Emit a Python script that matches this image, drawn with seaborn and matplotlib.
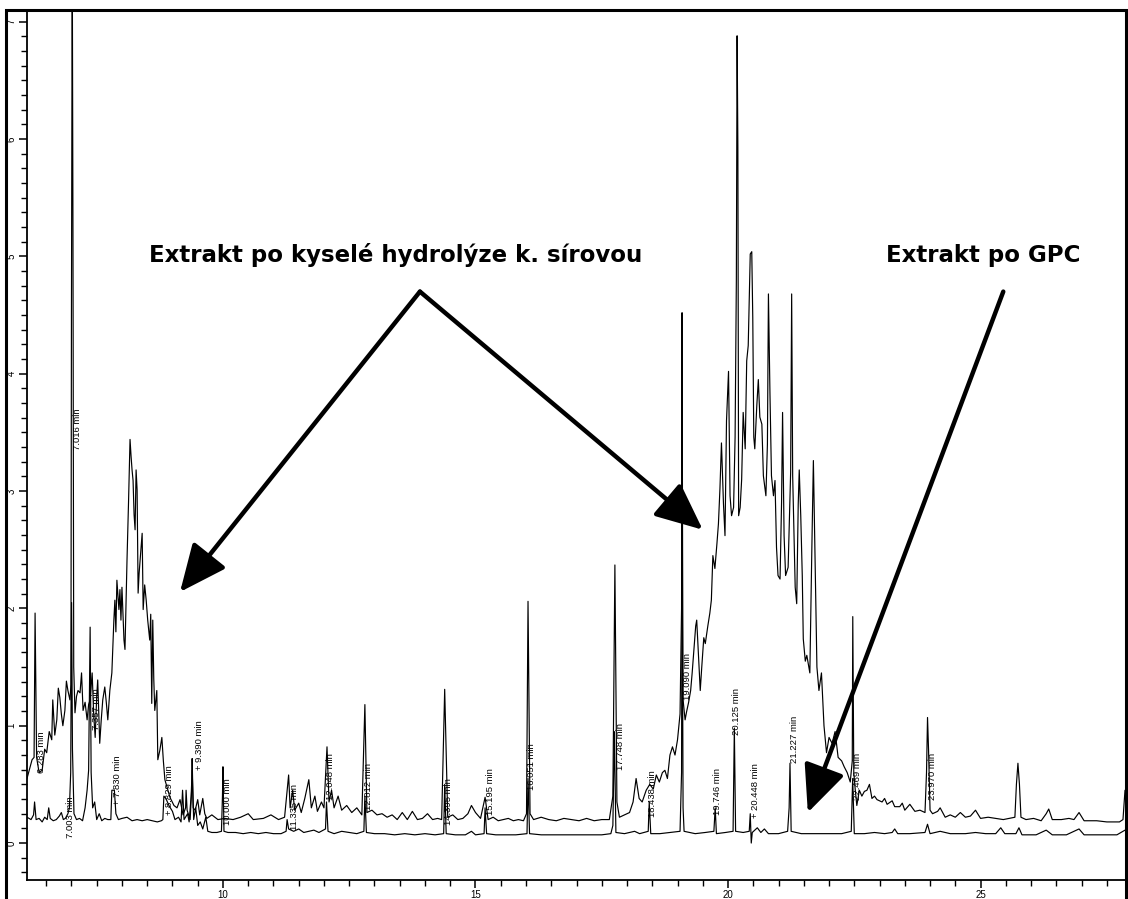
import matplotlib
matplotlib.use("Agg")
import matplotlib.pyplot as plt
from matplotlib.patches import Rectangle
from matplotlib.ticker import MultipleLocator
import pandas as pd
import seaborn as sns

# ---------------- data ----------------
# Extrakt po kyselé hydrolýze k. sírovou (upper trace)
hyd_time = [6.12, 6.22, 6.26, 6.28, 6.31, 6.36, 6.42, 6.47, 6.51, 6.56, 6.61, 6.63, 6.67, 6.71, 6.74, 6.77, 6.80,
            6.83, 6.87, 6.90, 6.93, 6.97, 6.99, 7.00, 7.016, 7.03, 7.045, 7.07, 7.10, 7.13, 7.17, 7.20, 7.23, 7.27,
            7.31, 7.34, 7.37, 7.41, 7.44, 7.47, 7.50, 7.52, 7.56, 7.59, 7.62, 7.66, 7.69, 7.72, 7.76, 7.80, 7.84,
            7.86, 7.88, 7.90, 7.94, 7.96, 7.98, 8.00, 8.04, 8.06, 8.10, 8.13, 8.16, 8.18, 8.20, 8.22, 8.24, 8.26,
            8.28, 8.30, 8.32, 8.34, 8.36, 8.40, 8.42, 8.45, 8.48, 8.51, 8.55, 8.57, 8.59, 8.61, 8.63, 8.65, 8.69,
            8.71, 8.75, 8.79, 8.82, 8.85, 8.91, 8.95, 9.03, 9.09, 9.15, 9.21, 9.26, 9.27, 9.29, 9.35, 9.38, 9.39,
            9.41, 9.45, 9.50, 9.54, 9.60, 9.64, 9.68, 9.78, 9.90, 10.04, 10.20, 10.35, 10.50, 10.60, 10.80, 10.95,
            11.10, 11.22, 11.27, 11.30, 11.33, 11.38, 11.42, 11.50, 11.55, 11.62, 11.70, 11.75, 11.82, 11.87, 11.95,
            12.00, 12.06, 12.10, 12.15, 12.20, 12.28, 12.35, 12.45, 12.55, 12.65, 12.75, 12.81, 12.85, 12.95, 13.05,
            13.15, 13.25, 13.35, 13.45, 13.55, 13.65, 13.75, 13.85, 13.95, 14.05, 14.15, 14.25, 14.33, 14.39, 14.45,
            14.55, 14.65, 14.75, 14.85, 14.92, 15.00, 15.10, 15.19, 15.25, 15.35, 15.45, 15.55, 15.65, 15.75, 15.85,
            15.95, 16.01, 16.04, 16.08, 16.15, 16.30, 16.45, 16.60, 16.75, 16.90, 17.05, 17.20, 17.35, 17.50, 17.65,
            17.72, 17.76, 17.80, 17.85, 17.95, 18.05, 18.12, 18.18, 18.24, 18.30, 18.38, 18.45, 18.52, 18.58, 18.64,
            18.70, 18.75, 18.80, 18.85, 18.90, 18.95, 19.00, 19.05, 19.08, 19.09, 19.10, 19.11, 19.15, 19.18, 19.22,
            19.26, 19.29, 19.32, 19.36, 19.38, 19.42, 19.45, 19.48, 19.52, 19.55, 19.60, 19.64, 19.67, 19.70, 19.74,
            19.78, 19.81, 19.84, 19.87, 19.91, 19.94, 19.97, 20.01, 20.04, 20.07, 20.11, 20.14, 20.165, 20.18,
            20.195, 20.21, 20.24, 20.27, 20.30, 20.34, 20.37, 20.40, 20.44, 20.47, 20.49, 20.51, 20.53, 20.57,
            20.60, 20.63, 20.67, 20.70, 20.75, 20.78, 20.80, 20.83, 20.86, 20.90, 20.93, 20.96, 20.99, 21.03, 21.06,
            21.08, 21.11, 21.14, 21.19, 21.24, 21.26, 21.28, 21.33, 21.36, 21.39, 21.41, 21.44, 21.47, 21.49, 21.53,
            21.56, 21.62, 21.66, 21.69, 21.72, 21.76, 21.80, 21.85, 21.90, 21.95, 22.00, 22.06, 22.12, 22.18, 22.25,
            22.30, 22.36, 22.42, 22.46, 22.47, 22.49, 22.52, 22.55, 22.60, 22.65, 22.70, 22.75, 22.80, 22.85, 22.90,
            22.95, 23.05, 23.10, 23.15, 23.25, 23.30, 23.40, 23.45, 23.50, 23.60, 23.70, 23.80, 23.90, 23.93, 23.95,
            23.97, 24.00, 24.05, 24.15, 24.20, 24.30, 24.40, 24.50, 24.60, 24.70, 24.80, 24.90, 25.00, 25.15, 25.30,
            25.45, 25.68, 25.71, 25.74, 25.77, 25.80, 25.90, 26.05, 26.20, 26.30, 26.35, 26.42, 26.60, 26.75, 26.85,
            26.95, 27.05, 27.30, 27.50, 27.75, 27.82, 27.86]
hyd_signal = [0.55, 0.71, 0.73, 1.96, 0.73, 0.60, 0.62, 0.80, 0.77, 0.95, 0.88, 1.22, 0.92, 1.05, 1.32, 1.24, 1.10,
              1.00, 1.13, 1.38, 1.30, 1.22, 1.35, 4.50, 7.60, 5.20, 1.50, 1.11, 1.25, 1.30, 1.28, 1.45, 1.13, 1.20,
              1.05, 1.18, 1.22, 1.45, 1.10, 0.90, 1.25, 1.39, 0.85, 1.05, 1.22, 1.33, 1.20, 1.05, 1.30, 1.45, 1.90,
              2.07, 1.80, 2.24, 1.99, 2.16, 1.90, 2.18, 1.73, 1.65, 2.41, 2.90, 3.44, 3.30, 3.18, 3.09, 2.80, 2.67,
              3.18, 3.01, 2.13, 2.30, 2.41, 2.64, 1.99, 2.20, 2.07, 1.90, 1.73, 1.95, 1.19, 1.90, 1.40, 1.13, 1.30,
              0.71, 0.79, 0.90, 0.70, 0.54, 0.45, 0.39, 0.32, 0.30, 0.37, 0.24, 0.30, 0.45, 0.28, 0.20, 0.45, 0.72,
              0.30, 0.28, 0.37, 0.24, 0.38, 0.25, 0.21, 0.24, 0.20, 0.21, 0.20, 0.22, 0.25, 0.20, 0.21, 0.24,
              0.20, 0.22, 0.45, 0.58, 0.30, 0.45, 0.28, 0.34, 0.26, 0.38, 0.54, 0.30, 0.40, 0.27, 0.35,
              0.30, 0.82, 0.35, 0.45, 0.30, 0.40, 0.28, 0.32, 0.26, 0.30, 0.24, 1.18, 0.26, 0.28, 0.24,
              0.25, 0.22, 0.24, 0.20, 0.26, 0.20, 0.27, 0.20, 0.21, 0.25, 0.20, 0.21, 0.20, 1.31, 0.22,
              0.24, 0.20, 0.21, 0.25, 0.32, 0.26, 0.21, 0.39, 0.20, 0.22, 0.19, 0.20, 0.21, 0.19, 0.20,
              0.19, 0.25, 2.06, 0.25, 0.20, 0.22, 0.20, 0.19, 0.21, 0.20, 0.19, 0.21, 0.19, 0.20, 0.20,
              0.40, 2.37, 0.35, 0.22, 0.24, 0.26, 0.35, 0.55, 0.38, 0.35, 0.45, 0.50, 0.46, 0.58, 0.52,
              0.60, 0.62, 0.55, 0.75, 0.82, 0.75, 0.88, 1.10, 2.00, 4.52, 2.50, 1.22, 1.05, 1.12, 1.20,
              1.30, 1.45, 1.62, 1.85, 1.90, 1.55, 1.30, 1.50, 1.75, 1.70, 1.85, 1.96, 2.07, 2.45, 2.34,
              2.55, 2.72, 3.02, 3.41, 2.89, 2.62, 3.60, 4.02, 2.96, 2.79, 2.86, 3.46, 4.80, 6.88,
              5.93, 2.79, 2.86, 3.10, 3.67, 3.36, 4.11, 4.24, 5.02, 5.04, 4.48, 3.46, 3.36, 3.73,
              3.95, 3.63, 3.57, 3.13, 2.96, 3.40, 4.68, 3.84, 3.13, 2.96, 3.09, 2.52, 2.28, 2.25, 2.90,
              3.67, 2.62, 2.28, 2.35, 3.16, 4.68, 3.13, 2.18, 2.04, 2.89, 3.18, 2.79, 2.28, 1.74, 1.55,
              1.60, 1.45, 2.52, 3.26, 2.52, 1.50, 1.30, 1.45, 1.00, 0.77, 0.90, 0.85, 0.95, 0.73, 0.70,
              0.65, 0.60, 0.52, 0.70, 1.93, 0.60, 0.45, 0.32, 0.45, 0.40, 0.44, 0.45, 0.50, 0.38, 0.40,
              0.37, 0.35, 0.38, 0.33, 0.36, 0.31, 0.31, 0.34, 0.28, 0.33, 0.27, 0.28, 0.26, 0.60, 1.07,
              0.80, 0.28, 0.25, 0.27, 0.30, 0.22, 0.24, 0.22, 0.26, 0.22, 0.23, 0.28, 0.21, 0.22, 0.21,
              0.20, 0.22, 0.50, 0.68, 0.50, 0.22, 0.20, 0.21, 0.19, 0.25, 0.29, 0.20, 0.20, 0.21, 0.20,
              0.26, 0.19, 0.19, 0.18, 0.18, 0.20, 0.45]

# Extrakt po GPC (lower trace)
gpc_time = [6.12, 6.20, 6.25, 6.27, 6.30, 6.36, 6.42, 6.47, 6.52, 6.55, 6.58, 6.64, 6.70, 6.76, 6.80, 6.84, 6.88,
            6.93, 6.96, 6.985, 7.003, 7.02, 7.05, 7.10, 7.16, 7.22, 7.27, 7.31, 7.34, 7.37, 7.39, 7.42, 7.46, 7.50,
            7.55, 7.60, 7.66, 7.72, 7.78, 7.80, 7.85, 7.88, 7.93, 8.00, 8.10, 8.20, 8.30, 8.40, 8.50, 8.60, 8.70,
            8.78, 8.81, 8.83, 8.87, 8.93, 9.00, 9.05, 9.12, 9.17, 9.20, 9.23, 9.30, 9.33, 9.37, 9.39, 9.42, 9.46,
            9.50, 9.55, 9.60, 9.66, 9.70, 9.78, 9.88, 9.97, 9.99, 10.00, 10.02, 10.10, 10.25, 10.40, 10.55, 10.70,
            10.85, 11.00, 11.15, 11.25, 11.27, 11.30, 11.40, 11.50, 11.60, 11.70, 11.80, 11.90, 12.03, 12.05, 12.08,
            12.20, 12.35, 12.50, 12.65, 12.79, 12.81, 12.84, 13.00, 13.20, 13.40, 13.60, 13.80, 14.00, 14.20, 14.37,
            14.39, 14.42, 14.60, 14.80, 14.92, 15.00, 15.17, 15.19, 15.22, 15.40, 15.60, 15.80, 16.02, 16.04, 16.07,
            16.30, 16.60, 16.90, 17.20, 17.50, 17.68, 17.72, 17.75, 17.78, 17.95, 18.15, 18.25, 18.42, 18.44, 18.47,
            18.65, 18.85, 19.05, 19.08, 19.09, 19.11, 19.13, 19.35, 19.55, 19.72, 19.746, 19.77, 19.95, 20.10,
            20.125, 20.15, 20.30, 20.42, 20.44, 20.46, 20.48, 20.58, 20.65, 20.72, 20.80, 21.00, 21.18, 21.21,
            21.227, 21.25, 21.45, 21.70, 22.00, 22.25, 22.44, 22.468, 22.50, 22.70, 22.90, 23.10, 23.25, 23.30,
            23.36, 23.60, 23.90, 23.95, 24.00, 24.20, 24.40, 24.70, 24.90, 25.10, 25.30, 25.40, 25.48, 25.70, 25.76,
            25.82, 26.10, 26.30, 26.42, 26.70, 26.95, 27.05, 27.40, 27.70, 27.86]
gpc_signal = [0.22, 0.20, 0.24, 0.35, 0.20, 0.21, 0.18, 0.22, 0.20, 0.30, 0.21, 0.19, 0.20, 0.23, 0.26, 0.20, 0.21,
              0.25, 0.30, 0.60, 2.05, 0.80, 0.25, 0.20, 0.21, 0.19, 0.30, 0.45, 0.62, 1.84, 0.60, 0.30, 0.35, 0.20,
              0.25, 0.19, 0.21, 0.20, 0.20, 0.45, 0.45, 0.25, 0.20, 0.21, 0.22, 0.19, 0.20, 0.19, 0.20, 0.19, 0.18,
              0.19, 0.20, 0.40, 0.38, 0.32, 0.27, 0.20, 0.22, 0.18, 0.45, 0.20, 0.25, 0.18, 0.40, 0.62, 0.20, 0.30,
              0.15, 0.18, 0.12, 0.22, 0.10, 0.09, 0.09, 0.10, 0.40, 0.65, 0.10, 0.09, 0.09, 0.08, 0.09, 0.08,
              0.09, 0.08, 0.08, 0.10, 0.20, 0.12, 0.10, 0.12, 0.09, 0.10, 0.11, 0.09, 0.12, 0.35, 0.10,
              0.08, 0.10, 0.09, 0.08, 0.10, 0.40, 0.09, 0.08, 0.08, 0.07, 0.08, 0.07, 0.08, 0.07, 0.08,
              0.50, 0.08, 0.07, 0.07, 0.10, 0.07, 0.08, 0.30, 0.08, 0.07, 0.07, 0.07, 0.08, 0.55, 0.08,
              0.07, 0.07, 0.07, 0.07, 0.07, 0.08, 0.15, 0.95, 0.09, 0.08, 0.10, 0.08, 0.10, 0.35, 0.08,
              0.08, 0.09, 0.10, 0.60, 2.70, 0.30, 0.10, 0.08, 0.09, 0.10, 0.30, 0.08, 0.09, 0.10,
              0.98, 0.10, 0.09, 0.10, 0.25, 0.00, 0.09, 0.13, 0.09, 0.12, 0.08, 0.08, 0.10, 0.30,
              0.68, 0.10, 0.08, 0.08, 0.08, 0.08, 0.10, 0.55, 0.08, 0.08, 0.09, 0.08, 0.09, 0.12,
              0.08, 0.08, 0.09, 0.16, 0.08, 0.10, 0.08, 0.08, 0.09, 0.08, 0.08, 0.13, 0.08, 0.08, 0.13,
              0.07, 0.07, 0.11, 0.07, 0.07, 0.12, 0.07, 0.07, 0.07, 0.11]

x_ticks = [10, 15, 20, 25]
y_ticks = [0, 1, 2, 3, 4, 5, 6, 7]

peak_labels = ["6.283 min", "7.016 min", "7.003 min", "7.357 min", "+ 7.830 min", "+ 8.829 min",
               "+ 9.390 min", "10.000 min", "11.335 min", "12.048 min", "12.812 min", "14.395 min",
               "15.195 min", "16.051 min", "17.748 min", "18.438 min", "19.090 min", "19.746 min",
               "20.125 min", "+ 20.448 min", "21.227 min", "22.469 min", "23.970 min"]
label_anchor = [(6.41, 0.60), (7.11, 3.35), (6.98, 0.04), (7.50, 0.96), (7.92, 0.32), (8.95, 0.24),
                (9.54, 0.62), (10.08, 0.15), (11.41, 0.11), (12.12, 0.37), (12.89, 0.28), (14.46, 0.15),
                (15.29, 0.24), (16.10, 0.45), (17.88, 0.62), (18.51, 0.22), (19.19, 1.22), (19.80, 0.24),
                (20.16, 0.92), (20.55, 0.21), (21.31, 0.68), (22.57, 0.37), (24.04, 0.37)]

hyd = pd.DataFrame({"time": hyd_time, "signal": hyd_signal})
gpc = pd.DataFrame({"time": gpc_time, "signal": gpc_signal})

# ---------------- figure ----------------
sns.set_theme(style="ticks")
plt.rcParams["font.family"] = ["Liberation Sans", "DejaVu Sans"]

W, H = 1128, 899
fig = plt.figure(figsize=(W / 100, H / 100), dpi=100)
fig.patch.set_facecolor("white")
ax = fig.add_axes([27 / W, 19 / H, 1098 / W, 870 / H])
ax.set_facecolor("white")

sns.lineplot(data=hyd, x="time", y="signal", ax=ax, color="black", linewidth=0.85,
             estimator=None, sort=False)
sns.lineplot(data=gpc, x="time", y="signal", ax=ax, color="black", linewidth=0.85,
             estimator=None, sort=False)

ax.set_xlim(6.12, 27.86)
ax.set_ylim(-0.315, 7.10)
ax.set_xlabel("")
ax.set_ylabel("")

ax.set_xticks(x_ticks)
ax.set_xticklabels([str(v) for v in x_ticks])
ax.set_yticks(y_ticks)
ax.set_yticklabels([str(v) for v in y_ticks], rotation=90, va="center")
ax.xaxis.set_minor_locator(MultipleLocator(0.5))
ax.yaxis.set_minor_locator(MultipleLocator(0.125))
ax.tick_params(axis="both", which="major", direction="out", length=6, width=1.1,
               labelsize=7, colors="black", pad=1.5)
ax.tick_params(axis="both", which="minor", direction="out", length=4, width=1.0, colors="black")

for side in ["top", "right"]:
    ax.spines[side].set_visible(False)
for side in ["left", "bottom"]:
    ax.spines[side].set_color("black")
    ax.spines[side].set_linewidth(1.3)

# peak retention-time labels
for txt, (tx, ty) in zip(peak_labels, label_anchor):
    ax.text(tx, ty, txt, rotation=90, fontsize=6.8, ha="center", va="bottom", color="black")

# annotations
ax.text(13.42, 5.01, "Extrakt po kyselé hydrolýze k. sírovou", fontsize=16.5, fontweight="bold",
        family=["DejaVu Sans"], ha="center", va="center", color="black")
ax.text(25.05, 5.01, "Extrakt po GPC", fontsize=16.5, fontweight="bold",
        family=["DejaVu Sans"], ha="center", va="center", color="black")

arrow_style = dict(arrowstyle="-|>,head_length=1.45,head_width=0.65", lw=3.2, color="black",
                   mutation_scale=20, shrinkA=0, shrinkB=0)
ax.annotate("", xy=(9.15, 2.14), xytext=(13.90, 4.70), arrowprops=arrow_style)
ax.annotate("", xy=(19.50, 2.67), xytext=(13.90, 4.70), arrowprops=arrow_style)
ax.annotate("", xy=(21.58, 0.26), xytext=(25.45, 4.70), arrowprops=arrow_style)

# outer frame of the scanned chart
fig.add_artist(Rectangle((6 / W, -0.01), 1120 / W, 1 - 10 / H + 0.01, transform=fig.transFigure,
                         fill=False, lw=2.2, edgecolor="black"))

fig.savefig("out.png", dpi=100)
